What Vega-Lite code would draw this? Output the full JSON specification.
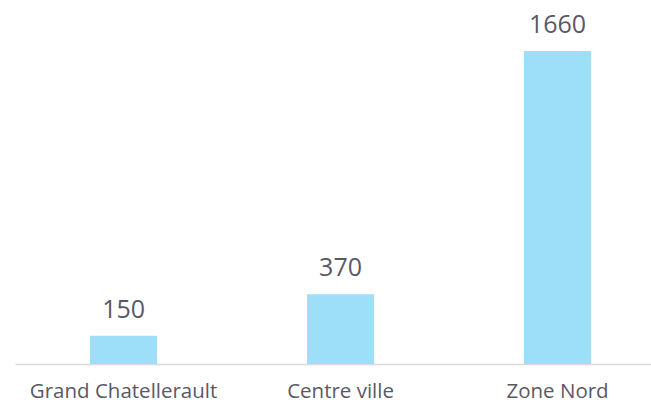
{
  "$schema": "https://vega.github.io/schema/vega-lite/v6.json",
  "width": 636,
  "height": 364,
  "autosize": {"type": "none"},
  "padding": {"left": 15, "top": 0, "right": 0, "bottom": 42},
  "background": "white",
  "config": {"view": {"stroke": null}, "font": "Open Sans"},
  "data": {"values": [
    {"zone": "Grand Chatellerault", "valeur": 150},
    {"zone": "Centre ville", "valeur": 370},
    {"zone": "Zone Nord", "valeur": 1660}
  ]},
  "encoding": {
    "x": {"field": "zone", "type": "nominal", "sort": null,
      "scale": {"paddingInner": 0.691, "paddingOuter": 0.311, "align": 0.556},
      "axis": {"title": null, "labelAngle": 0, "ticks": false, "labelFontSize": 20.5, "labelLimit": 400, "labelColor": "#595966", "labelPadding": 17, "labelFont": "Open Sans", "domainColor": "#D9D9DF", "domainWidth": 1.5}},
    "y": {"field": "valeur", "type": "quantitative",
      "scale": {"domain": [0, 1930], "nice": false},
      "axis": null}
  },
  "layer": [
    {"mark": {"type": "bar", "color": "#9DDEF8"}},
    {"mark": {"type": "text", "baseline": "alphabetic", "dy": -18, "fontSize": 25, "color": "#595966", "font": "Open Sans"},
     "encoding": {"text": {"field": "valeur", "type": "quantitative"}}}
  ]
}
